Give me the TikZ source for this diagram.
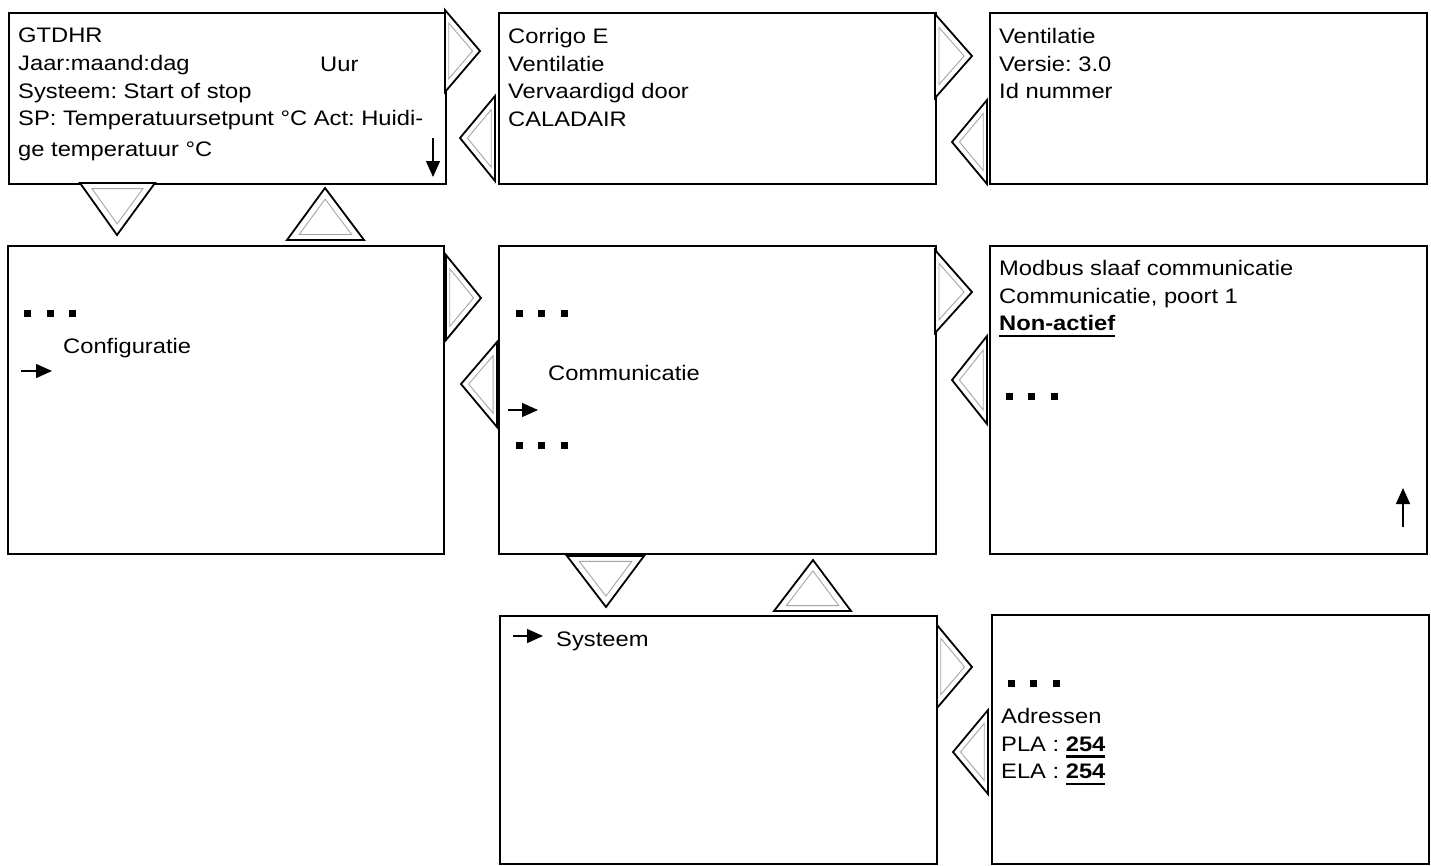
\documentclass[tikz,border=0pt]{standalone}
\usepackage{fontspec}
\setmainfont{Liberation Sans}[FakeStretch=1.13]
\usetikzlibrary{arrows.meta,calc}
\frenchspacing

% navigation triangle: two base corners and the tip
\newcommand{\navtri}[3]{%
  \coordinate (na) at (#1); \coordinate (nb) at (#2); \coordinate (nc) at (#3);
  \coordinate (nm) at (barycentric cs:na=1,nb=1,nc=1);
  \draw[navout] (na) -- (nb) -- (nc) -- cycle;
  \draw[navin] ($(nm)!0.68!(na)$) -- ($(nm)!0.68!(nb)$) -- ($(nm)!0.68!(nc)$) -- cycle;}
% three square dots, first centre given
\newcommand{\menudots}[2]{\foreach \k in {0,1,2}{\fill ({#1+22.5*\k-3.5},{#2-3.5}) rectangle ++(7,7);}}
% bold underlined value
\newcommand{\selval}[1]{\setbox0=\hbox{\bfseries #1}\rlap{\rule[-6.5pt]{\wd0}{2.2pt}}\box0}

\begin{document}
\begin{tikzpicture}[x=1pt,y=-1pt,
  screen/.style={draw,line width=2pt,anchor=north west,inner sep=0pt},
  txt/.style={inner sep=0pt,align=left,font=\fontsize{21}{27.6}\selectfont},
  navout/.style={draw,line width=1.8pt,fill=white,line join=miter},
  navin/.style={draw=gray!70,line width=0.9pt},
  ptr/.style={line width=1.4pt,-{Triangle[length=16pt,width=14pt]}}]
\fill[white] (0,0) rectangle (1431,865);
\useasboundingbox (0,0) rectangle (1431,865);

% screens
\node[screen,minimum width=437pt,minimum height=171pt] (start) at (8,12) {};
\node[screen,minimum width=437pt,minimum height=171pt] (corrigo) at (498,12) {};
\node[screen,minimum width=437pt,minimum height=171pt] (versie) at (989,12) {};
\node[screen,minimum width=436pt,minimum height=308pt] (config) at (7,245) {};
\node[screen,minimum width=437pt,minimum height=308pt] (comm) at (498,245) {};
\node[screen,minimum width=437pt,minimum height=308pt] (modbus) at (989,245) {};
\node[screen,minimum width=437pt,minimum height=248pt] (systeem) at (499,615) {};
\node[screen,minimum width=437pt,minimum height=249pt] (adres) at (991,614) {};

% texts
\node[txt,anchor=north west] (starttxt) at (18,28) {GTDHR\\Jaar:maand:dag\\Systeem: Start of stop\\SP: Temperatuursetpunt °C Act: Huidi-\\[3pt]ge temperatuur °C};
\node[txt,anchor=base west] (uur) at (320,71) {Uur};
\node[txt,anchor=north west] (corrigotxt) at (508,28) {Corrigo E\\Ventilatie\\Vervaardigd door\\CALADAIR};
\node[txt,anchor=north west] (versietxt) at (999,28) {Ventilatie\\Versie: 3.0\\Id nummer};
\node[txt,anchor=base west] (configtxt) at (63,353) {Configuratie};
\node[txt,anchor=base west] (commtxt) at (548,380) {Communicatie};
\node[txt,anchor=north west] (modbustxt) at (999,260) {Modbus slaaf communicatie\\Communicatie, poort 1\\\selval{Non-actief}};
\node[txt,anchor=base west] (systeemtxt) at (556,646) {Systeem};
\node[txt,anchor=north west] (adrestxt) at (1001,708) {Adressen\\PLA : \selval{254}\\ELA : \selval{254}};

% dots and pointers
\menudots{27.5}{313}
\menudots{519}{313}
\menudots{519}{445}
\menudots{1009}{396}
\menudots{1011}{683}
\draw[ptr] (21,371) -- (52,371);
\draw[ptr] (508,410) -- (538,410);
\draw[ptr] (513,636) -- (543,636);
\draw[ptr] (433,138) -- (433,177);
\draw[ptr] (1403,527) -- (1403,488);

% navigation
\navtri{445,10}{445,92}{480,51}
\navtri{495,96}{495,181}{460,138}
\navtri{935,14}{935,98}{972,56}
\navtri{987,100}{987,184}{952,142}
\navtri{80,183}{155,183}{117,235}
\navtri{287,240}{364,240}{325,188}
\navtri{446,255}{446,340}{481,298}
\navtri{497,342}{497,427}{461,384}
\navtri{935,250}{935,333}{972,292}
\navtri{987,336}{987,424}{952,380}
\navtri{567,556}{644,556}{606,607}
\navtri{774,611}{851,611}{813,560}
\navtri{937,625}{937,708}{972,667}
\navtri{988,710}{988,794}{953,752}
\end{tikzpicture}
\end{document}
